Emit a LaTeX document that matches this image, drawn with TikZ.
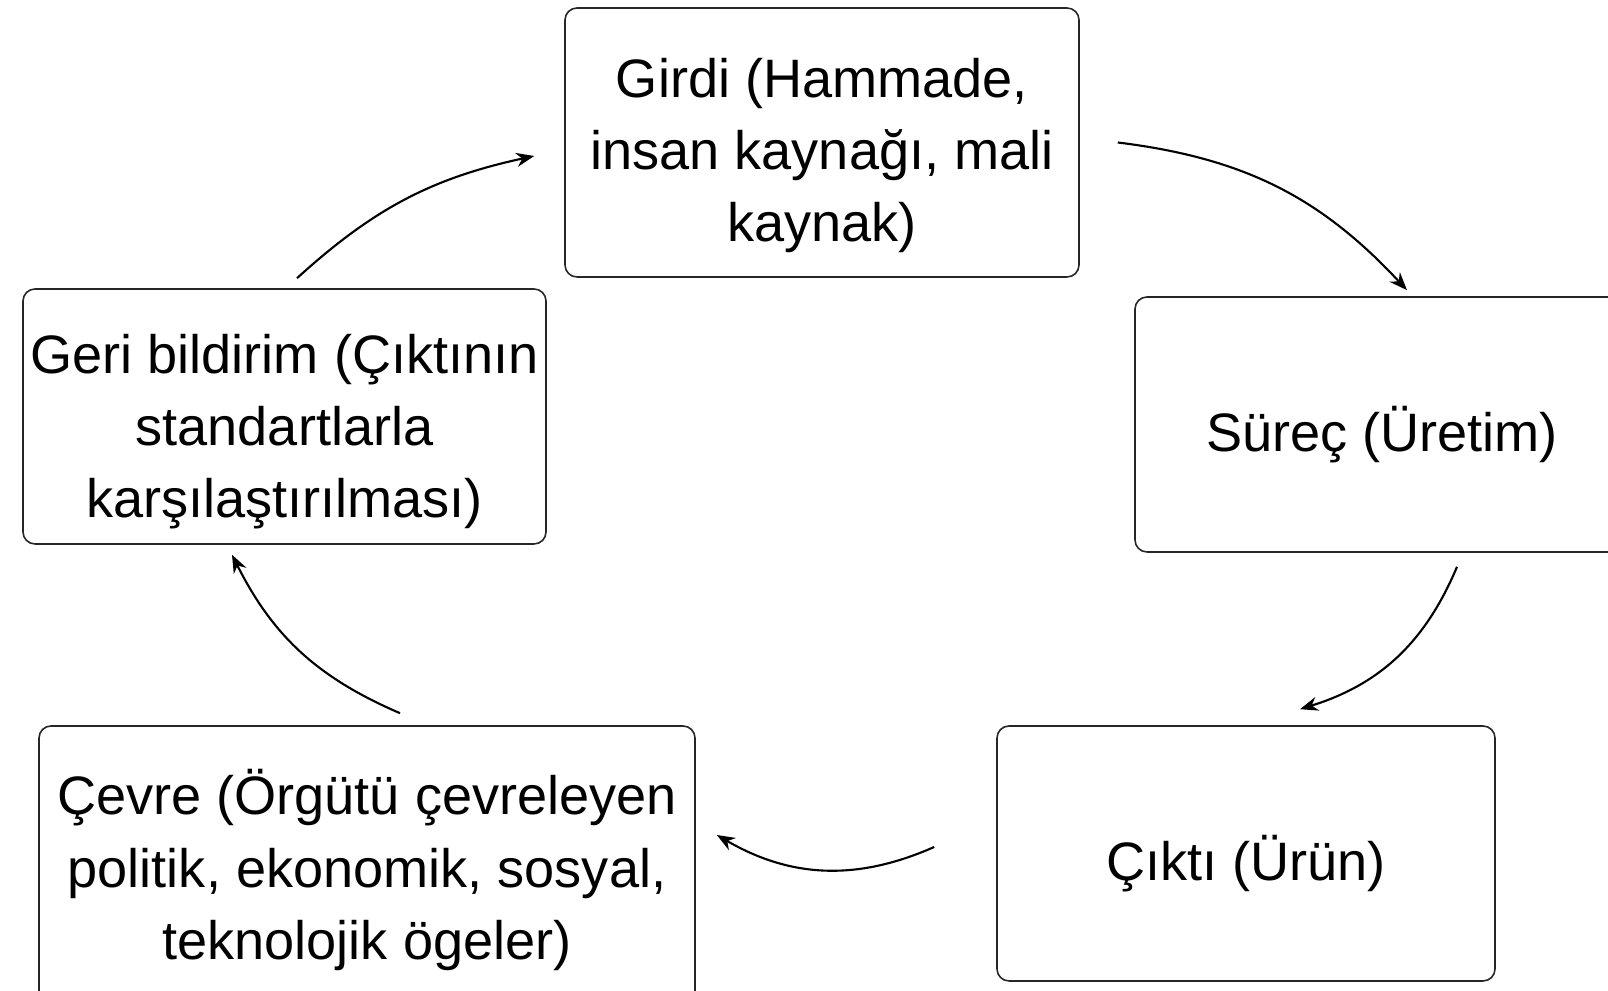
\documentclass[tikz,border=0pt]{standalone}
\usepackage{fontspec}
\setmainfont{Liberation Sans}
\usetikzlibrary{arrows.meta}
\tikzset{
  kutu/.style={draw=black!85, line width=0.45pt, rounded corners=0.12cm, inner sep=0pt},
  metin/.style={align=center, inner sep=0pt, font=\fontsize{15.4pt}{20.5pt}\selectfont},
  ok/.style={-{Stealth[length=0.18cm,width=0.14cm]}, line width=0.6pt}
}
\begin{document}
\begin{tikzpicture}
\useasboundingbox (0,0) rectangle (16.08,9.91);
\node[kutu, minimum width=5.14cm, minimum height=2.69cm,
  label={[metin,yshift=-0.13cm]center:Girdi (Hammade,\\insan kaynağı, mali\\kaynak)}] (girdi) at (8.22,8.485) {};
\node[kutu, minimum width=4.94cm, minimum height=2.55cm,
  label={[metin,yshift=-0.10cm]center:Süreç (Üretim)}] (surec) at (13.82,5.665) {};
\node[kutu, minimum width=4.98cm, minimum height=2.55cm,
  label={[metin,yshift=-0.10cm]center:Çıktı (Ürün)}] (cikti) at (12.46,1.375) {};
\node[kutu, minimum width=6.56cm, minimum height=2.88cm,
  label={[metin]center:Çevre (Örgütü çevreleyen\\politik, ekonomik, sosyal,\\teknolojik ögeler)}] (cevre) at (3.67,1.21) {};
\node[kutu, minimum width=5.23cm, minimum height=2.55cm,
  label={[metin,yshift=-0.15cm]center:Geri bildirim (Çıktının\\standartlarla\\karşılaştırılması)}] (geri) at (2.845,5.745) {};
% dongu oklari
\draw[ok] ([xshift=0.38cm]girdi.east) to[bend left=20] ([xshift=0.25cm,yshift=0.06cm]surec.north);
\draw[ok] ([xshift=0.75cm,yshift=-0.14cm]surec.south) to[bend left=25] ([xshift=0.54cm,yshift=0.16cm]cikti.north);
\draw[ok] ([xshift=-0.62cm,yshift=0.065cm]cikti.west) to[bend left=27] ([xshift=0.21cm,yshift=0.35cm]cevre.east);
\draw[ok] ([xshift=0.33cm,yshift=0.12cm]cevre.north) to[bend left=20] ([xshift=-0.525cm,yshift=-0.1cm]geri.south);
\draw[ok] ([xshift=0.125cm,yshift=0.1cm]geri.north) to[bend left=15] ([xshift=-0.3cm,yshift=-0.135cm]girdi.west);
\end{tikzpicture}
\end{document}
